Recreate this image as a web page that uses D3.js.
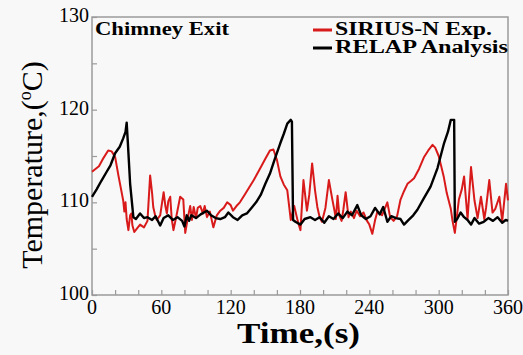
<!DOCTYPE html>
<html><head><meta charset="utf-8">
<script src="https://cdn.jsdelivr.net/npm/d3@7"></script>
<style>body{margin:0;background:#fff}svg{display:block}</style>
</head><body>
<script>
const xTicks = [0, 60, 120, 180, 240, 300, 360];
const yTicks = [100, 110, 120, 130];
const seriesNames = ["SIRIUS-N Exp.", "RELAP Analysis"];

const expTime = [0,6,10,14,17,20,23,25,27,28,29,30,31.5,33,34,35,36.6,39,41.6,45,48,50.3,52,53,55,56,59,62,63.5,64.8,66,67.7,69,70.5,73,76.3,79,80.7,83,85,86.5,88,90,91.5,93.7,96,97.5,99.5,102,105,108,111,114,117,120,122,125,128,132,136,140,145.7,150,154,157,160,163,166,169,172,175,178,180.4,183,186,188,190.5,193,195,197,199,202,205,208,210,211,212.5,214,216,217.5,219.5,222,224,226.7,229,232,235,238,240,242.6,245,247,251,255.6,258,261,264,267,270,273,276,278.7,283,287.4,291,294.7,297,300,302,304.5,307,310.5,312,314,317.5,320,322,325,328,331,333.7,336.6,339.5,341,343.8,346.6,349,352.5,355,358.3,360];
const expTemp = [113.3,113.9,114.8,115.6,115.5,114.9,112.8,111.5,110.2,109.0,110.0,108.2,107.0,108.6,108.8,107.5,106.8,107.2,107.6,107.3,108.0,112.9,111.0,109.5,108.4,108.1,108.6,111.1,109.6,108.8,110.1,110.6,108.2,107.0,108.5,110.6,110.3,106.7,108.4,109.6,108.1,109.5,108.3,109.4,109.6,108.8,109.6,108.4,109.0,107.3,108.6,109.1,109.4,110.0,109.7,109.1,109.6,110.0,110.8,111.6,112.4,113.7,114.7,115.6,115.7,114.6,112.8,111.9,111.3,108.1,109.6,108.0,107.0,112.4,109.1,110.8,114.2,111.3,109.5,108.4,107.9,109.4,112.4,110.3,109.0,108.2,110.7,108.6,108.0,109.2,111.1,108.4,109.0,108.3,109.1,108.5,108.9,108.0,107.6,106.6,108.1,109.0,108.6,110.0,108.4,108.0,108.5,110.3,111.2,112.0,112.3,112.6,113.6,114.9,115.6,116.2,115.9,115.0,114.0,112.7,111.0,109.3,108.0,106.7,110.3,111.4,112.8,108.2,113.8,110.2,108.3,110.6,108.2,109.4,112.4,108.9,109.3,110.6,108.0,112.0,110.2];

const relTime = [0,4,8,12.7,16,20,24,27,29,30,31,33,35.8,38,41.6,45,48,52,55,59,62,66,70,74,78,80,82,84,86,90,94,99.5,103,107,111,115,118,122,126,130,134,138,142,146,150,154,158,163,166,169,172,173,174,176,180.4,184,189,193,197,201,205,209,213,217,221,225,229.6,233,237,241,245,249,252,255.6,259,263,267,270,274,278,281.6,287,293,299,304.7,308,310.5,313.4,314,316,319,322,325,328,331,335,339,343,347,351,355,358,360];
const relTemp = [110.6,111.4,112.3,113.3,114.0,115.3,116.0,116.9,117.6,118.6,116.5,112.0,108.4,108.2,108.8,108.3,108.4,108.1,108.5,107.5,108.3,108.6,108.1,108.4,108.0,107.4,108.6,108.0,108.6,108.3,108.7,109.1,108.6,108.3,108.2,108.4,108.9,108.4,108.1,108.6,108.8,109.4,110.0,110.8,112.0,113.1,114.6,116.4,117.4,118.5,118.9,118.7,108.1,107.9,107.6,108.2,108.4,108.1,108.4,107.8,108.5,108.2,108.8,108.3,109.0,108.6,109.7,108.6,108.2,108.5,109.4,108.7,109.5,107.9,108.5,108.3,108.2,107.6,108.1,108.6,109.2,110.4,111.7,113.7,116.4,117.6,118.9,118.9,107.9,108.2,108.9,108.4,108.1,107.6,108.3,107.7,107.9,108.3,108.0,108.4,107.8,108.1,108.0];

const W = 523, H = 355;
const m = {l: 92, r: 15, t: 17, b: 60};
const svg = d3.select("body").append("svg").attr("width", W).attr("height", H)
  .style("font-family", '"Liberation Serif"');
svg.append("rect").attr("width", W).attr("height", H).attr("fill", "#f8f8f8");

const x = d3.scaleLinear().domain([0, 360]).range([m.l, W - m.r]);
const y = d3.scaleLinear().domain([100, 130]).range([H - m.b, m.t]);

// frame
svg.append("rect").attr("x", x(0)).attr("y", y(130)).attr("width", x(360) - x(0)).attr("height", y(100) - y(130))
  .attr("fill", "none").attr("stroke", "#9a9a9a").attr("stroke-width", 1.5);

// ticks
const xAxis = d3.axisBottom(x).tickValues(d3.range(0, 361, 20)).tickSize(-5).tickFormat("");
const gx = svg.append("g").attr("transform", `translate(0,${y(100)})`).call(xAxis);
gx.select(".domain").remove();
gx.selectAll("line").attr("stroke", "#9a9a9a").attr("stroke-width", 1.2);
const yAxis = d3.axisLeft(y).tickValues(d3.range(100, 131, 5)).tickSize(-5).tickFormat("");
const gy = svg.append("g").attr("transform", `translate(${x(0)},0)`).call(yAxis);
gy.select(".domain").remove();
gy.selectAll("line").attr("stroke", "#9a9a9a").attr("stroke-width", 1.2);

// tick labels
svg.append("g").selectAll("text").data(xTicks).join("text")
  .attr("x", d => x(d)).attr("y", y(100) + 19).attr("text-anchor", "middle")
  .attr("font-size", 20).text(d => d);
svg.append("g").selectAll("text").data(yTicks).join("text")
  .attr("x", x(0) - 3).attr("y", d => y(d) + 5).attr("text-anchor", "end")
  .attr("font-size", 20).text(d => d);

// lines
const line = d3.line().x(d => x(d[0])).y(d => y(d[1])).curve(d3.curveLinear);
svg.append("path").datum(d3.zip(expTime, expTemp)).attr("d", line)
  .attr("fill", "none").attr("stroke", "#d91a1a").attr("stroke-width", 2).attr("stroke-linejoin", "round");
svg.append("path").datum(d3.zip(relTime, relTemp)).attr("d", line)
  .attr("fill", "none").attr("stroke", "#000").attr("stroke-width", 2.4).attr("stroke-linejoin", "round");

// labels
svg.append("text").attr("x", 95).attr("y", 35).attr("font-weight", "bold")
  .attr("font-size", 18).attr("textLength", 134).attr("lengthAdjust", "spacingAndGlyphs").text("Chimney Exit");
const legColors = ["#d91a1a", "#000"];
const legLen = [157, 173];
seriesNames.forEach((s, i) => {
  const ly = 30 + i * 18;
  svg.append("line").attr("x1", 313).attr("x2", 332).attr("y1", ly).attr("y2", ly)
    .attr("stroke", legColors[i]).attr("stroke-width", 3);
  svg.append("text").attr("x", 335).attr("y", ly + 5).attr("font-weight", "bold")
    .attr("font-size", 18).attr("textLength", legLen[i]).attr("lengthAdjust", "spacingAndGlyphs").text(s);
});

svg.append("text").attr("x", 237).attr("y", 343)
  .attr("font-weight", "bold").attr("font-size", 30).attr("textLength", 123).attr("lengthAdjust", "spacingAndGlyphs").text("Time,(s)");

const yl = svg.append("text").attr("transform", "translate(42,165) rotate(-90)").attr("text-anchor", "middle")
  .attr("font-size", 30);
yl.append("tspan").text("Temperature,(");
yl.append("tspan").attr("font-size", 18).attr("dy", -11).text("o");
yl.append("tspan").attr("dy", 11).text("C)");
</script>
</body></html>
